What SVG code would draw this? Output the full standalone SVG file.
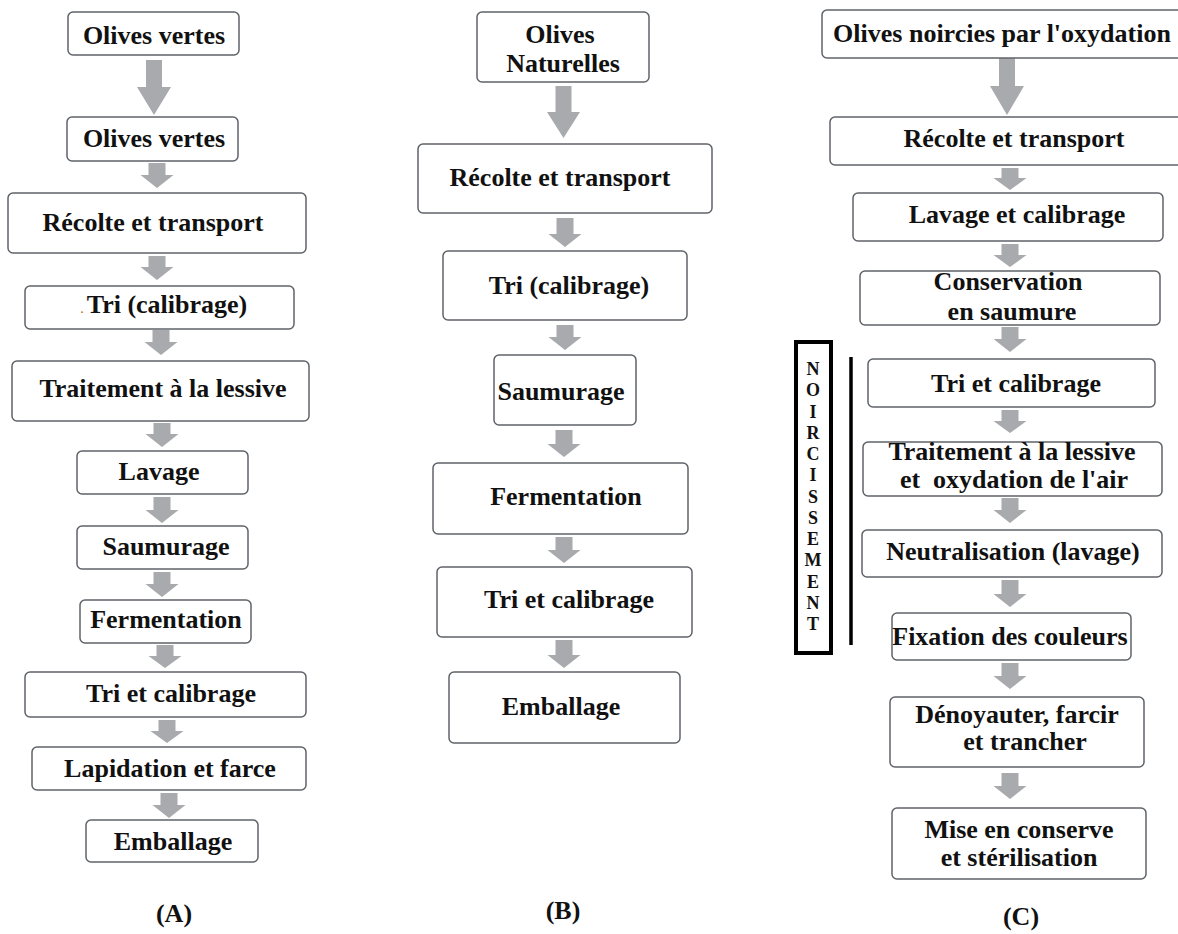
<svg xmlns="http://www.w3.org/2000/svg" width="1178" height="934" viewBox="0 0 1178 934">
<style>
.box{fill:#fff;stroke:#5f6368;stroke-width:1.5}
.t{font-family:"Liberation Serif","Times New Roman",serif;font-weight:bold;font-size:26px;fill:#111;text-anchor:middle}
.lbl{font-family:"Liberation Serif","Times New Roman",serif;font-weight:bold;font-size:26px;fill:#111;text-anchor:middle}
.v{font-family:"Liberation Serif","Times New Roman",serif;font-weight:bold;font-size:18px;fill:#111;text-anchor:middle}
.arr{fill:#a8aaae}
</style>
<rect width="1178" height="934" fill="#fff"/>
<g id="connectors">
<path class="arr" d="M146,60H162V87H171L154,115L137,87H146Z"/>
<path class="arr" d="M148.5,163H165.5V175H173.5L157,188L140.5,175H148.5Z"/>
<path class="arr" d="M148.5,256H165.5V267H173.5L157,280L140.5,267H148.5Z"/>
<path class="arr" d="M152.5,330H169.5V342H177.5L161,355L144.5,342H152.5Z"/>
<path class="arr" d="M153.5,423H170.5V434H178.5L162,447L145.5,434H153.5Z"/>
<path class="arr" d="M153.5,497H170.5V510H178.5L162,523L145.5,510H153.5Z"/>
<path class="arr" d="M153.5,572H170.5V584H178.5L162,597L145.5,584H153.5Z"/>
<path class="arr" d="M156.5,645H173.5V656H181.5L165,668L148.5,656H156.5Z"/>
<path class="arr" d="M158.5,720H175.5V731H183.5L167,743L150.5,731H158.5Z"/>
<path class="arr" d="M160.5,793H177.5V805H185.5L169,818L152.5,805H160.5Z"/>
<path class="arr" d="M555.5,86H571.5V112H580L563.5,138L547,112H555.5Z"/>
<path class="arr" d="M556.5,218H573.5V234H581.5L565,247L548.5,234H556.5Z"/>
<path class="arr" d="M556.5,325H573.5V337H581.5L565,350L548.5,337H556.5Z"/>
<path class="arr" d="M555.5,430H572.5V444H580.5L564,457L547.5,444H555.5Z"/>
<path class="arr" d="M555.5,537H572.5V550H580.5L564,563L547.5,550H555.5Z"/>
<path class="arr" d="M555.5,640H572.5V655H580.5L564,668L547.5,655H555.5Z"/>
<path class="arr" d="M999,58H1015V86H1024L1007,115L990,86H999Z"/>
<path class="arr" d="M1001.5,168H1018.5V178H1026.5L1010,190L993.5,178H1001.5Z"/>
<path class="arr" d="M1001.5,244H1018.5V255H1026.5L1010,267L993.5,255H1001.5Z"/>
<path class="arr" d="M1001.5,327H1018.5V339H1026.5L1010,352L993.5,339H1001.5Z"/>
<path class="arr" d="M1001.5,410H1018.5V421H1026.5L1010,433L993.5,421H1001.5Z"/>
<path class="arr" d="M1001.5,498H1018.5V510H1026.5L1010,523L993.5,510H1001.5Z"/>
<path class="arr" d="M1001.5,580H1018.5V594H1026.5L1010,607L993.5,594H1001.5Z"/>
<path class="arr" d="M1001.5,663H1018.5V676H1026.5L1010,689L993.5,676H1001.5Z"/>
<path class="arr" d="M1001.5,773H1018.5V786H1026.5L1010,799L993.5,786H1001.5Z"/>
</g>
<g id="A1"><rect class="box" x="68" y="12" width="171" height="43" rx="5"/><text class="t" x="154" y="44">Olives vertes</text></g>
<g id="A2"><rect class="box" x="67" y="117" width="171" height="44" rx="5"/><text class="t" x="154" y="147">Olives vertes</text></g>
<g id="A3"><rect class="box" x="8" y="193" width="298" height="60" rx="5"/><text class="t" x="153" y="231">Récolte et transport</text></g>
<g id="A4"><rect class="box" x="25" y="286" width="269" height="43" rx="5"/><text class="t" x="82" y="313" style="font-size:10px;fill:#b06a20">.</text><text class="t" x="167" y="313">Tri (calibrage)</text></g>
<g id="A5"><rect class="box" x="12" y="361" width="297" height="60" rx="5"/><text class="t" x="163" y="397">Traitement à la lessive</text></g>
<g id="A6"><rect class="box" x="77" y="451" width="171" height="43" rx="5"/><text class="t" x="159" y="480">Lavage</text></g>
<g id="A7"><rect class="box" x="77" y="526" width="171" height="43" rx="5"/><text class="t" x="166" y="555">Saumurage</text></g>
<g id="A8"><rect class="box" x="80" y="600" width="171" height="43" rx="5"/><text class="t" x="166" y="628">Fermentation</text></g>
<g id="A9"><rect class="box" x="25" y="672" width="281" height="45" rx="5"/><text class="t" x="171" y="702">Tri et calibrage</text></g>
<g id="A10"><rect class="box" x="32" y="747" width="274" height="43" rx="5"/><text class="t" x="170" y="777">Lapidation et farce</text></g>
<g id="A11"><rect class="box" x="86" y="820" width="172" height="42" rx="5"/><text class="t" x="173" y="850">Emballage</text></g>
<g id="B1"><rect class="box" x="477" y="12" width="172" height="70" rx="5"/><text class="t" x="560" y="43">Olives</text><text class="t" x="563" y="72">Naturelles</text></g>
<g id="B2"><rect class="box" x="418" y="144" width="294" height="69" rx="5"/><text class="t" x="560" y="186">Récolte et transport</text></g>
<g id="B3"><rect class="box" x="443" y="251" width="244" height="69" rx="5"/><text class="t" x="569" y="294">Tri (calibrage)</text></g>
<g id="B4"><rect class="box" x="494" y="355" width="142" height="70" rx="5"/><text class="t" x="561" y="400">Saumurage</text></g>
<g id="B5"><rect class="box" x="433" y="463" width="255" height="71" rx="5"/><text class="t" x="566" y="505">Fermentation</text></g>
<g id="B6"><rect class="box" x="437" y="567" width="255" height="70" rx="5"/><text class="t" x="569" y="608">Tri et calibrage</text></g>
<g id="B7"><rect class="box" x="449" y="672" width="231" height="71" rx="5"/><text class="t" x="561" y="715">Emballage</text></g>
<g id="C1"><rect class="box" x="822" y="10" width="362" height="48" rx="5"/><text class="t" x="1002" y="42">Olives noircies par l'oxydation</text></g>
<g id="C2"><rect class="box" x="830" y="117" width="354" height="48" rx="5"/><text class="t" x="1014" y="147">Récolte et transport</text></g>
<g id="C3"><rect class="box" x="853" y="193" width="310" height="48" rx="5"/><text class="t" x="1017" y="223">Lavage et calibrage</text></g>
<g id="C4"><rect class="box" x="860" y="271" width="300" height="54" rx="5"/><text class="t" x="1008" y="290">Conservation</text><text class="t" x="1012" y="320">en saumure</text></g>
<g id="noircissement">
<rect x="796" y="342" width="35" height="311" fill="none" stroke="#000" stroke-width="4"/>
<line x1="851" y1="357" x2="851" y2="645" stroke="#000" stroke-width="3.5"/>
<text class="v" x="813" y="375">N</text><text class="v" x="813" y="396">O</text><text class="v" x="813" y="418">I</text><text class="v" x="813" y="439">R</text><text class="v" x="813" y="460">C</text><text class="v" x="813" y="481">I</text><text class="v" x="813" y="503">S</text><text class="v" x="813" y="524">S</text><text class="v" x="813" y="545">E</text><text class="v" x="813" y="566">M</text><text class="v" x="813" y="588">E</text><text class="v" x="813" y="609">N</text><text class="v" x="813" y="630">T</text>
</g>
<g id="C5"><rect class="box" x="868" y="359" width="287" height="48" rx="5"/><text class="t" x="1016" y="392">Tri et calibrage</text></g>
<g id="C6"><rect class="box" x="863" y="442" width="299" height="54" rx="5"/><text class="t" x="1012" y="460">Traitement à la lessive</text><text class="t" x="1014" y="488" xml:space="preserve">et  oxydation de l'air</text></g>
<g id="C7"><rect class="box" x="862" y="530" width="300" height="47" rx="5"/><text class="t" x="1013" y="560">Neutralisation (lavage)</text></g>
<g id="C8"><rect class="box" x="892" y="613" width="239" height="47" rx="5"/><text class="t" x="1010" y="645">Fixation des couleurs</text></g>
<g id="C9"><rect class="box" x="890" y="697" width="254" height="70" rx="5"/><text class="t" x="1017" y="723">Dénoyauter, farcir</text><text class="t" x="1025" y="750">et trancher</text></g>
<g id="C10"><rect class="box" x="892" y="808" width="254" height="71" rx="5"/><text class="t" x="1019" y="838">Mise en conserve</text><text class="t" x="1019" y="866">et stérilisation</text></g>
<g id="labels">
<text class="lbl" x="174" y="922">(A)</text>
<text class="lbl" x="563" y="919">(B)</text>
<text class="lbl" x="1021" y="925">(C)</text>
</g>
</svg>
